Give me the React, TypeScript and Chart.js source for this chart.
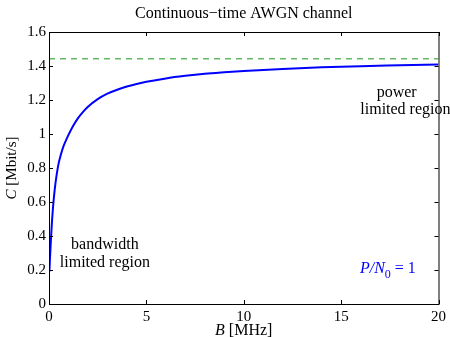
import React, { useEffect, useRef } from "react";
import { Chart, registerables } from "chart.js";

Chart.register(...registerables);

// Bandwidth B [MHz] and capacity C [Mbit/s]
const bandwidthMHz = [0.02, 0.05, 0.1, 0.15, 0.2, 0.3, 0.4, 0.5, 0.6, 0.75, 0.9, 1, 1.25, 1.5, 1.75, 2, 2.5, 3, 3.5, 4, 4.5, 5, 6, 7, 8, 9, 10, 12, 14, 16, 18, 20];
const capacityMbit = [0.19, 0.27, 0.38, 0.48, 0.56, 0.68, 0.765, 0.83, 0.875, 0.93, 0.97, 0.995, 1.05, 1.095, 1.13, 1.16, 1.205, 1.237, 1.26, 1.279, 1.294, 1.307, 1.327, 1.342, 1.354, 1.363, 1.371, 1.383, 1.392, 1.399, 1.404, 1.409];
// Asymptote (infinite bandwidth limit)
const limitX = [0, 20];
const limitY = [1.4427, 1.4427];

const xTicks = [0, 5, 10, 15, 20];
const yTicks = [0, 0.2, 0.4, 0.6, 0.8, 1, 1.2, 1.4, 1.6];

const titleText = "Continuous\u2212time AWGN channel";
const FONT = "'Liberation Serif', 'Times New Roman', serif";

type Piece = { t: string; italic?: boolean; sub?: boolean };

function drawPieces(ctx: CanvasRenderingContext2D, pieces: Piece[], cx: number, cy: number, size: number, color: string) {
  const fontFor = (p: Piece) => `${p.italic ? "italic " : ""}${p.sub ? Math.round(size * 0.75) : size}px ${FONT}`;
  let total = 0;
  for (const p of pieces) {
    ctx.font = fontFor(p);
    total += ctx.measureText(p.t).width;
  }
  let x = cx - total / 2;
  ctx.fillStyle = color;
  ctx.textAlign = "left";
  ctx.textBaseline = "middle";
  for (const p of pieces) {
    ctx.font = fontFor(p);
    ctx.fillText(p.t, x, p.sub ? cy + size * 0.4 : cy);
    x += ctx.measureText(p.t).width;
  }
}

const decorPlugin = {
  id: "decor",
  afterDraw(chart: any) {
    const { ctx, chartArea, scales } = chart;
    const xs = scales.x;
    const ys = scales.y;
    ctx.save();
    // frame
    ctx.strokeStyle = "#000";
    ctx.lineWidth = 1;
    ctx.strokeRect(chartArea.left + 0.5, chartArea.top + 0.5, chartArea.right - chartArea.left, chartArea.bottom - chartArea.top);
    // inward ticks
    const tl = 4;
    ctx.beginPath();
    for (const v of xTicks) {
      const px = Math.round(xs.getPixelForValue(v)) + 0.5;
      ctx.moveTo(px, chartArea.bottom);
      ctx.lineTo(px, chartArea.bottom - tl);
      ctx.moveTo(px, chartArea.top);
      ctx.lineTo(px, chartArea.top + tl);
    }
    for (const v of yTicks) {
      const py = Math.round(ys.getPixelForValue(v)) + 0.5;
      ctx.moveTo(chartArea.left, py);
      ctx.lineTo(chartArea.left + tl, py);
      ctx.moveTo(chartArea.right, py);
      ctx.lineTo(chartArea.right - tl, py);
    }
    ctx.stroke();

    const cxArea = (chartArea.left + chartArea.right) / 2;
    // title
    drawPieces(ctx, [{ t: titleText }], cxArea, 14, 16, "#000");
    // x axis title
    drawPieces(ctx, [{ t: "B", italic: true }, { t: " [MHz]" }], cxArea, 331, 16, "#000");
    // y axis title (rotated)
    ctx.save();
    ctx.translate(12, (chartArea.top + chartArea.bottom) / 2);
    ctx.rotate(-Math.PI / 2);
    drawPieces(ctx, [{ t: "C", italic: true }, { t: " [Mbit/s]" }], 0, 0, 15, "#000");
    ctx.restore();

    // annotations (positioned in data coordinates)
    const ax = (v: number) => xs.getPixelForValue(v);
    const ay = (v: number) => ys.getPixelForValue(v);
    drawPieces(ctx, [{ t: "bandwidth" }], ax(2.87), ay(0.35), 16, "#000");
    drawPieces(ctx, [{ t: "limited region" }], ax(2.87), ay(0.24), 16, "#000");
    drawPieces(ctx, [{ t: "power" }], ax(17.85), ay(1.245), 16, "#000");
    drawPieces(ctx, [{ t: "limited region" }], ax(18.3), ay(1.145), 16, "#000");
    drawPieces(ctx, [{ t: "P/N", italic: true }, { t: "0", sub: true }, { t: " = 1" }], ax(17.4), ay(0.21), 16, "#0000ff");
    ctx.restore();
  },
};

export default function App() {
  const ref = useRef<HTMLCanvasElement | null>(null);
  useEffect(() => {
    document.body.style.margin = "0";
    const canvas = ref.current;
    if (!canvas) return;
    const chart = new Chart(canvas, {
      type: "line",
      data: {
        datasets: [
          {
            data: bandwidthMHz.map((b, i) => ({ x: b, y: capacityMbit[i] })),
            borderColor: "#0000ff",
            borderWidth: 2,
            pointRadius: 0,
            cubicInterpolationMode: "monotone",
            fill: false,
          },
          {
            data: limitX.map((b, i) => ({ x: b, y: limitY[i] })),
            borderColor: "rgb(100,185,100)",
            borderWidth: 1.5,
            borderDash: [6, 5],
            pointRadius: 0,
            fill: false,
          },
        ],
      },
      options: {
        responsive: false,
        animation: false,
        layout: { padding: { top: 32, right: 11, left: 0, bottom: 0 } },
        plugins: { legend: { display: false }, tooltip: { enabled: false }, title: { display: false } },
        scales: {
          x: {
            type: "linear",
            min: 0,
            max: 20,
            afterFit: (s: any) => { s.height = 33; },
            afterBuildTicks: (s: any) => { s.ticks = xTicks.map((v) => ({ value: v })); },
            grid: { display: false, drawTicks: false },
            border: { display: false },
            ticks: { padding: 4, color: "#000", font: { family: FONT, size: 15 }, maxRotation: 0, callback: (v: any) => String(v) },
          },
          y: {
            type: "linear",
            min: 0,
            max: 1.6,
            afterFit: (s: any) => { s.width = 49; },
            afterBuildTicks: (s: any) => { s.ticks = yTicks.map((v) => ({ value: v })); },
            grid: { display: false, drawTicks: false },
            border: { display: false },
            ticks: { padding: 3, color: "#000", font: { family: FONT, size: 15 }, callback: (v: any) => String(Number(Number(v).toFixed(1))) },
          },
        },
      },
      plugins: [decorPlugin],
    } as any);
    return () => chart.destroy();
  }, []);
  return <canvas ref={ref} width={450} height={337} style={{ display: "block" }} />;
}
